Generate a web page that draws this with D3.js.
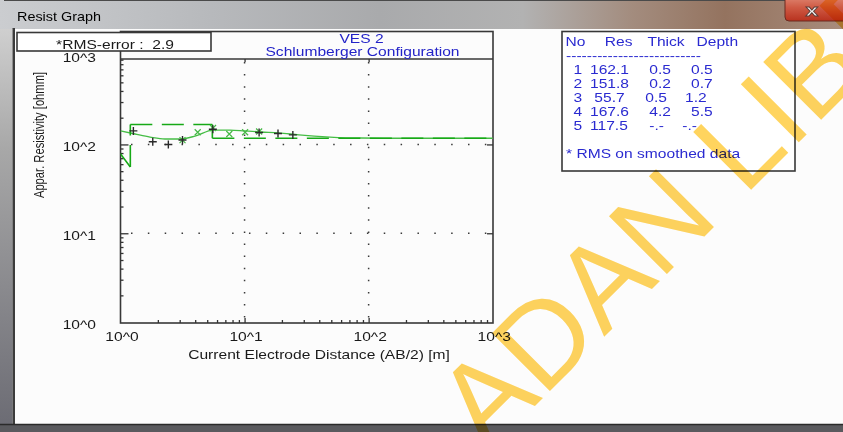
<!DOCTYPE html>
<html><head><meta charset="utf-8">
<script src="https://cdn.jsdelivr.net/npm/d3@7"></script>
<style>
html,body{margin:0;padding:0;background:#fcfcfc;overflow:hidden}
svg{display:block}
text{font-family:"Liberation Sans",Arial,sans-serif;white-space:pre}
</style></head><body>
<svg id="c" width="843" height="432"></svg>
<script>
// ---------------- data ----------------
const windowTitle = "Resist Graph";
const chartTitle = "VES 2";
const chartSubtitle = "Schlumberger Configuration";
const rmsLabel = "*RMS-error :  2.9";
const xAxisTitle = "Current Electrode Distance (AB/2) [m]";
const yAxisTitle = "Appar. Resistivity [ohmm]";
const decadeValues = [1, 10, 100, 1000];
const decadeLabels = ["10^0", "10^1", "10^2", "10^3"];
const tableHeader = ["No", "Res", "Thick", "Depth"];
const tableRule = "--------------------------";
const layerNo = ["1", "2", "3", "4", "5"];
const layerRes = ["162.1", "151.8", "55.7", "167.6", "117.5"];
const layerThick = ["0.5", "0.2", "0.5", "4.2", "-.-"];
const layerDepth = ["0.5", "0.7", "1.2", "5.5", "-.-"];
const tableNote = "* RMS on smoothed data";
// observed field data (+)
const obsAB2 = [1.27, 1.82, 2.43, 3.16, 5.55, 13.1, 18.6, 24.5];
const obsRho = [142, 107, 100, 112, 148, 136, 133, 128];
// smoothed data (x)
const smAB2 = [3.16, 4.19, 5.57, 7.53, 10.1, 13.1];
const smRho = [112, 137, 153, 131, 137, 140];
// calculated (model response) curve
const calcAB2 = [1.0, 1.31, 1.73, 2.28, 3.02, 3.99, 5.57, 7.63, 10, 13.6, 18.9, 27.4, 48.8, 85.2, 179, 1000];
const calcRho = [142, 131, 121, 115, 115, 124, 145, 145, 142, 138, 135, 128, 121, 118, 117.5, 117.5];
// layered model (dashed)
const modelAB2 = [0.7, 1.2, 1.2, 5.5, 5.5, 1000];
const modelRho = [151.8, 55.7, 167.6, 167.6, 117.5, 117.5];
const watermark = "ADAN LIBR";

// ---------------- layout ----------------
const SX = 1.3; // horizontal stretch of the original screenshot text
const svg = d3.select("#c");
const defs = svg.append("defs");

const tg = defs.append("linearGradient").attr("id", "tbar").attr("x1", 0).attr("x2", 1).attr("y1", 0).attr("y2", 0);
[[0, "#cbcdd0"], [0.25, "#b7b9bc"], [0.45, "#a9aaac"], [0.62, "#b2b2b2"], [0.75, "#a38c7e"], [0.86, "#94735f"], [1, "#a88c7c"]]
  .forEach(s => tg.append("stop").attr("offset", s[0]).attr("stop-color", s[1]));
const lg = defs.append("linearGradient").attr("id", "lstrip").attr("x1", 0).attr("x2", 0).attr("y1", 0).attr("y2", 1);
[[0, "#cfcfcf"], [0.3, "#a8a8a8"], [1, "#6c6c74"]].forEach(s => lg.append("stop").attr("offset", s[0]).attr("stop-color", s[1]));
const cg = defs.append("linearGradient").attr("id", "closeb").attr("x1", 0).attr("x2", 0).attr("y1", 0).attr("y2", 1);
[[0, "#e3907c"], [0.5, "#cf5a44"], [1, "#b8321f"]].forEach(s => cg.append("stop").attr("offset", s[0]).attr("stop-color", s[1]));
defs.append("clipPath").attr("id", "plotclip").append("rect")
  .attr("x", 120.5).attr("y", 59).attr("width", 372.5).attr("height", 264);

// background
svg.append("rect").attr("width", 843).attr("height", 432).attr("fill", "#fcfcfc");

function txt(g, s, x, y, o = {}) {
  return g.append("text").text(s).attr("xml:space", "preserve")
    .attr("transform", `translate(${x},${y}) scale(${o.sx || SX},1)` + (o.rot ? ` rotate(${o.rot})` : ""))
    .attr("text-anchor", o.anchor || "start")
    .attr("font-size", o.size || 12)
    .attr("fill", o.fill || "#1a1a1a");
}

// window chrome
svg.append("rect").attr("x", 0).attr("y", 0).attr("width", 843).attr("height", 29).attr("fill", "url(#tbar)");
svg.append("line").attr("x1", 4).attr("x2", 843).attr("y1", 0.5).attr("y2", 0.5).attr("stroke", "#4a4a4a");
svg.append("rect").attr("x", 0).attr("y", 29).attr("width", 12.5).attr("height", 396).attr("fill", "url(#lstrip)");
svg.append("rect").attr("x", 12.5).attr("y", 28).attr("width", 2.5).attr("height", 397).attr("fill", "#3c3c3c");
svg.append("rect").attr("x", 0).attr("y", 424).attr("width", 843).attr("height", 8).attr("fill", "#5a5a5e");
svg.append("line").attr("x1", 0).attr("x2", 843).attr("y1", 424.5).attr("y2", 424.5).attr("stroke", "#2a2a2a").attr("stroke-width", 1.5);
txt(svg, windowTitle, 17, 20.5, { sx: 1.2, fill: "#000" });
svg.append("rect").attr("x", 785).attr("y", -6).attr("width", 66).attr("height", 27).attr("rx", 4)
  .attr("fill", "url(#closeb)").attr("stroke", "#6a2b20").attr("stroke-width", 1);
svg.append("text").text("x").attr("x", 812).attr("y", 16.5).attr("text-anchor", "middle")
  .attr("font-size", 17).attr("font-weight", "bold").attr("fill", "#f2f2f2")
  .attr("stroke", "#5a3a35").attr("stroke-width", 0.8)
  .attr("transform", "translate(812,0) scale(1.35,1) translate(-812,0)");

// scales
const x = d3.scaleLog().domain([1, 1000]).range([120.5, 492.7]);
const y = d3.scaleLog().domain([1, 1000]).range([322.1, 55.6]);
const minor = [];
[1, 10, 100].forEach(d => { for (let k = 2; k <= 9; k++) minor.push(d * k); });
const inner = [10, 100];

// grid (dotted)
const grid = svg.append("g").attr("stroke", "#3a3a3a").attr("stroke-width", 1.5).attr("fill", "none");
inner.forEach(v => {
  grid.append("line").attr("x1", 131).attr("x2", 492).attr("y1", y(v)).attr("y2", y(v)).attr("stroke-dasharray", "1.5,15.35");
  grid.append("line").attr("x1", x(v)).attr("x2", x(v)).attr("y1", 62).attr("y2", 322).attr("stroke-dasharray", "1.5,10.6");
});

// frame
const frame = svg.append("g").attr("stroke", "#383838").attr("stroke-width", 1.6).attr("fill", "none");
frame.append("rect").attr("x", 120.5).attr("y", 31.5).attr("width", 372.5).attr("height", 291.5);
frame.append("line").attr("x1", 120.5).attr("x2", 493).attr("y1", 59).attr("y2", 59);

// axes (ticks)
function styleAxis(g) { g.select(".domain").remove(); g.selectAll(".tick line").attr("stroke", "#333").attr("stroke-width", 1.3); }
svg.append("g").attr("transform", "translate(120.5,0)").call(d3.axisRight(y).tickValues(minor).tickSize(3).tickFormat("")).call(styleAxis);
svg.append("g").attr("transform", "translate(120.5,0)").call(d3.axisRight(y).tickValues(inner).tickSize(8).tickFormat("")).call(styleAxis);
svg.append("g").attr("transform", "translate(493,0)").call(d3.axisLeft(y).tickValues(inner).tickSize(6).tickFormat("")).call(styleAxis);
svg.append("g").attr("transform", "translate(0,323)").call(d3.axisTop(x).tickValues(minor).tickSize(3).tickFormat("")).call(styleAxis);
svg.append("g").attr("transform", "translate(0,323)").call(d3.axisTop(x).tickValues(inner).tickSize(5).tickFormat("")).call(styleAxis);
svg.append("g").attr("transform", "translate(0,59)").call(d3.axisBottom(x).tickValues(inner).tickSize(3).tickFormat("")).call(styleAxis);

// tick labels via axes
const yl = svg.append("g").attr("transform", "translate(120.5,0)")
  .call(d3.axisLeft(y).tickValues(decadeValues).tickSize(0).tickFormat((d, i) => decadeLabels[i]));
yl.select(".domain").remove();
yl.attr("font-family", null).attr("font-size", null);
yl.selectAll("text").attr("x", null).attr("dy", null).attr("fill", "#1a1a1a").attr("font-size", 12)
  .attr("text-anchor", "end").attr("transform", `translate(-24.5,6.2) scale(${SX},1)`);
const xl = svg.append("g").attr("transform", "translate(0,323)")
  .call(d3.axisBottom(x).tickValues(decadeValues).tickSize(0).tickFormat((d, i) => decadeLabels[i]));
xl.select(".domain").remove();
xl.attr("font-family", null).attr("font-size", null);
xl.selectAll("text").attr("y", null).attr("dy", null).attr("fill", "#1a1a1a").attr("font-size", 12)
  .attr("text-anchor", "middle").attr("transform", `translate(1,17.5) scale(${SX},1)`);

// axis titles
txt(svg, xAxisTitle, 319, 358.5, { anchor: "middle" });
svg.append("text").text(yAxisTitle).attr("font-size", 11.2).attr("fill", "#1a1a1a").attr("text-anchor", "middle")
  .attr("transform", `translate(44,135) scale(${SX},1) rotate(-90)`);

// curves
const plot = svg.append("g").attr("clip-path", "url(#plotclip)");
const line = d3.line().x(d => x(d[0])).y(d => y(d[1]));
const calcPts = calcAB2.map((v, i) => [v, calcRho[i]]);
plot.append("path").attr("d", line.curve(d3.curveMonotoneX)(calcPts)).attr("fill", "none")
  .attr("stroke", "#45bd45").attr("stroke-width", 1.4);
const modelPts = modelAB2.map((v, i) => [v, modelRho[i]]);
const straight = d3.line().x(d => x(d[0])).y(d => y(d[1]));
d3.pairs(modelPts).forEach(seg => {
  plot.append("path").attr("d", straight(seg)).attr("fill", "none")
    .attr("stroke", "#17a917").attr("stroke-width", 1.6).attr("stroke-dasharray", "22,9.5");
});

// markers
const sm = plot.append("g").attr("stroke", "#46b846").attr("stroke-width", 1.2);
smAB2.forEach((v, i) => {
  const cx = x(v), cy = y(smRho[i]), r = 3;
  sm.append("path").attr("d", `M${cx - r},${cy - r}L${cx + r},${cy + r}M${cx - r},${cy + r}L${cx + r},${cy - r}`);
});
const ob = plot.append("g").attr("stroke", "#2a2a2a").attr("stroke-width", 1.4);
obsAB2.forEach((v, i) => {
  const cx = x(v), cy = y(obsRho[i]), r = 4;
  ob.append("path").attr("d", `M${cx - r},${cy}L${cx + r},${cy}M${cx},${cy - r}L${cx},${cy + r}`);
});

// titles
txt(svg, chartTitle, 361.5, 43.3, { anchor: "middle", fill: "#2323c8" });
txt(svg, chartSubtitle, 362.5, 55.8, { anchor: "middle", fill: "#2323c8" });

// RMS box
svg.append("rect").attr("x", 17).attr("y", 32.5).attr("width", 194).attr("height", 18.5)
  .attr("fill", "#fff").attr("stroke", "#383838").attr("stroke-width", 1.6);
txt(svg, rmsLabel, 115, 48.6, { anchor: "middle" });

// layer table
const tb = svg.append("g");
tb.append("rect").attr("x", 562).attr("y", 31.5).attr("width", 233).attr("height", 139.5)
  .attr("fill", "#fff").attr("stroke", "#383838").attr("stroke-width", 1.6);
const blue = "#2a2ad0";
const headX = [565.5, 604.8, 647.4, 696.5];
tableHeader.forEach((h, i) => txt(tb, h, headX[i], 46, { fill: blue }));
txt(tb, tableRule, 566, 60.3, { fill: blue });
const colX = [573.5, 590, 649.3, 691];
const cellShift = [[0, 0, 0, 0], [0, 0, 0, 0], [0, 4.3, -4, -6], [0, 0, 0, 0], [0, 0, 0, -8.7]];
layerNo.forEach((n, r) => {
  const by = 73.6 + r * 14;
  [n, layerRes[r], layerThick[r], layerDepth[r]].forEach((s, c) =>
    txt(tb, s, colX[c] + cellShift[r][c], by, { fill: blue }));
});
txt(tb, tableNote, 566, 157.5, { fill: blue });

// watermark
svg.append("text").text(watermark)
  .attr("transform", "translate(487,454) rotate(-45)")
  .attr("font-size", 119).attr("fill", "#ffd45e").style("mix-blend-mode", "multiply");
</script>
</body></html>
